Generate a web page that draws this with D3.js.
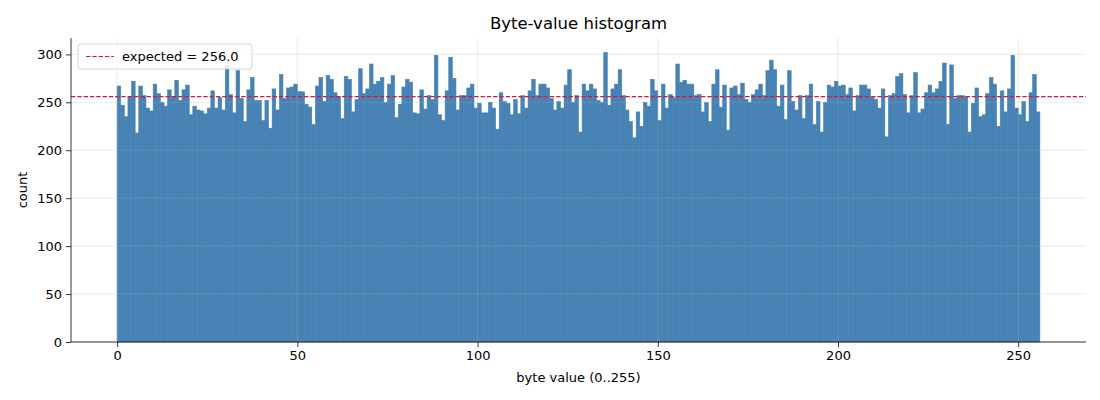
<!DOCTYPE html>
<html>
<head>
  <title>Byte-value histogram</title>
  <style>
    body {
      background-color: white;
      margin: 0;
      padding: 0;
    }
    text {
      font-family: "DejaVu Sans", sans-serif;
    }
  </style>
</head>
<body>
  <div id="chart-container"></div>

  <script src="https://d3js.org/d3.v7.min.js"></script>
  <script>
    // Counts per byte value 0..255
    const counts = [
      267, 247, 235, 256, 272, 218, 267, 257, 244, 241, 269, 259, 250, 246, 263, 256,
      273, 252, 263, 268, 237, 246, 242, 241, 238, 244, 262, 244, 255, 242, 288, 258,
      239, 283, 254, 230, 263, 276, 252, 252, 231, 252, 223, 264, 242, 279, 254, 265,
      266, 269, 261, 261, 248, 245, 227, 267, 276, 251, 278, 274, 260, 256, 233, 277,
      274, 240, 253, 285, 259, 264, 290, 269, 272, 276, 250, 269, 278, 234, 248, 266,
      274, 271, 239, 238, 263, 243, 257, 253, 299, 237, 231, 262, 297, 275, 242, 257,
      257, 265, 269, 244, 249, 239, 239, 250, 244, 222, 260, 251, 249, 237, 253, 238,
      257, 244, 262, 274, 257, 269, 269, 265, 254, 242, 251, 244, 268, 284, 250, 257,
      219, 269, 262, 269, 264, 252, 250, 302, 247, 264, 269, 284, 257, 242, 230, 213,
      240, 225, 250, 246, 274, 262, 231, 269, 244, 258, 255, 290, 271, 273, 269, 269,
      257, 258, 240, 250, 230, 269, 284, 245, 268, 221, 265, 267, 258, 270, 253, 250,
      258, 263, 269, 257, 283, 294, 284, 246, 268, 232, 283, 251, 242, 257, 233, 257,
      269, 227, 251, 219, 250, 268, 266, 272, 267, 268, 258, 265, 241, 257, 268, 268,
      264, 255, 253, 244, 264, 214, 257, 259, 277, 280, 258, 239, 257, 281, 239, 243,
      260, 268, 260, 264, 272, 291, 227, 289, 254, 257, 257, 256, 219, 249, 265, 235,
      237, 259, 276, 269, 225, 262, 240, 264, 299, 244, 237, 251, 230, 260, 279, 240
    ];
    const expected = 256.0;
    const xTicks = [0, 50, 100, 150, 200, 250];
    const yTicks = [0, 50, 100, 150, 200, 250, 300];

    const width = 1100, height = 400;
    const margin = { top: 38, right: 14, bottom: 58, left: 71 };

    const svg = d3.select('#chart-container').append('svg')
      .attr('width', width)
      .attr('height', height);

    // matplotlib-like 5% margins on x, top margin on y
    const x = d3.scaleLinear()
      .domain([-12.8, 268.8])
      .range([margin.left, width - margin.right]);
    const y = d3.scaleLinear()
      .domain([0, d3.max(counts) * 1.05])
      .range([height - margin.bottom, margin.top]);

    // bars (thin same-colour stroke hides the seams between neighbours)
    svg.selectAll('.bar')
      .data(counts)
      .enter()
      .append('rect')
      .attr('class', 'bar')
      .attr('x', (d, i) => x(i))
      .attr('width', (d, i) => x(i + 1) - x(i))
      .attr('y', d => y(d))
      .attr('height', d => y(0) - y(d))
      .style('fill', '#4682b4')
      .style('stroke', '#4682b4')
      .style('stroke-width', 0.6);

    // grid drawn over the bars, faint
    const grid = svg.append('g').attr('class', 'grid');
    grid.selectAll('.gx')
      .data(xTicks)
      .enter()
      .append('line')
      .attr('x1', d => x(d)).attr('x2', d => x(d))
      .attr('y1', margin.top).attr('y2', height - margin.bottom)
      .style('stroke', '#b0b0b0').style('stroke-width', 0.8).style('opacity', 0.3);
    grid.selectAll('.gy')
      .data(yTicks)
      .enter()
      .append('line')
      .attr('x1', margin.left).attr('x2', width - margin.right)
      .attr('y1', d => y(d)).attr('y2', d => y(d))
      .style('stroke', '#b0b0b0').style('stroke-width', 0.8).style('opacity', 0.3);

    // expected line
    svg.append('line')
      .attr('x1', margin.left).attr('x2', width - margin.right)
      .attr('y1', y(expected)).attr('y2', y(expected))
      .style('stroke', 'crimson')
      .style('stroke-width', 1.2)
      .style('stroke-dasharray', '4.4,1.9');

    // axes
    const xAxis = svg.append('g')
      .attr('transform', `translate(0,${height - margin.bottom})`)
      .call(d3.axisBottom(x).tickValues(xTicks).tickSize(5).tickPadding(4));
    const yAxis = svg.append('g')
      .attr('transform', `translate(${margin.left},0)`)
      .call(d3.axisLeft(y).tickValues(yTicks).tickSize(5).tickPadding(4));
    [xAxis, yAxis].forEach(a => {
      a.selectAll('text').style('font-size', '13px').style('fill', '#000')
        .style('font-family', '"DejaVu Sans", sans-serif');
      a.selectAll('line').style('stroke', '#000').style('stroke-width', 0.8);
      a.select('.domain').style('stroke', '#000').style('stroke-width', 0.8);
    });
    // only left and bottom spines: trim domain ends
    xAxis.select('.domain').attr('d', `M${margin.left},0H${width - margin.right}`);
    yAxis.select('.domain').attr('d', `M0,${height - margin.bottom}V${margin.top}`);

    // title and labels
    svg.append('text')
      .attr('x', (margin.left + width - margin.right) / 2)
      .attr('y', 29)
      .attr('text-anchor', 'middle')
      .style('font-size', '16.5px')
      .text('Byte-value histogram');
    svg.append('text')
      .attr('x', (margin.left + width - margin.right) / 2)
      .attr('y', 382)
      .attr('text-anchor', 'middle')
      .style('font-size', '13px')
      .text('byte value (0..255)');
    svg.append('text')
      .attr('transform', `translate(27,${(margin.top + height - margin.bottom) / 2}) rotate(-90)`)
      .attr('text-anchor', 'middle')
      .style('font-size', '13px')
      .text('count');

    // legend
    const legend = svg.append('g').attr('transform', `translate(${margin.left + 7},${margin.top + 6})`);
    legend.append('rect')
      .attr('width', 174).attr('height', 25)
      .attr('rx', 3)
      .style('fill', 'white').style('fill-opacity', 0.8)
      .style('stroke', '#cccccc').style('stroke-width', 0.8);
    legend.append('line')
      .attr('x1', 8).attr('x2', 36)
      .attr('y1', 12.5).attr('y2', 12.5)
      .style('stroke', 'crimson').style('stroke-width', 1.2)
      .style('stroke-dasharray', '4.4,1.9');
    legend.append('text')
      .attr('x', 44).attr('y', 17)
      .style('font-size', '13px')
      .text('expected = ' + expected.toFixed(1));
  </script>
</body>
</html>
